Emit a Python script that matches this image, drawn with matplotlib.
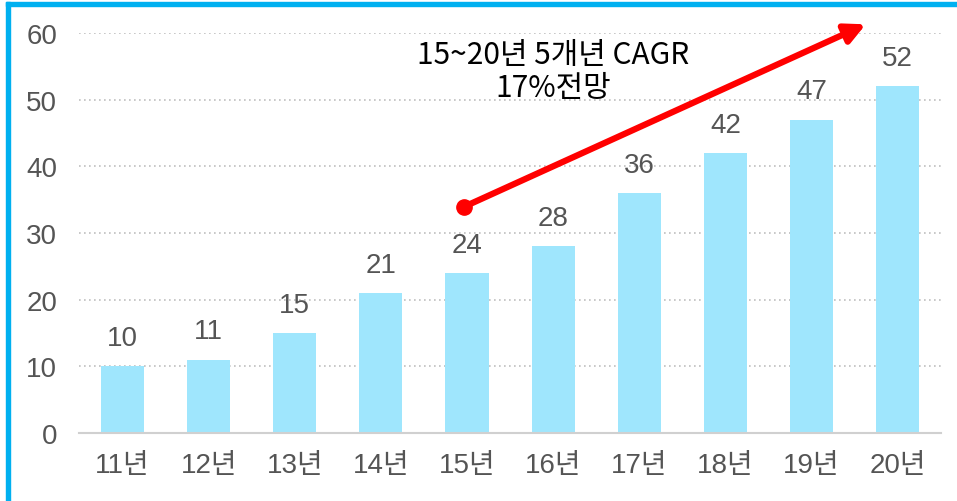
import matplotlib.pyplot as plt
from matplotlib.patches import Rectangle

plt.rcParams['font.family'] = ['Liberation Sans', 'Noto Sans CJK KR']

# data
years = ['11년', '12년', '13년', '14년', '15년', '16년', '17년', '18년', '19년', '20년']
values = [10, 11, 15, 21, 24, 28, 36, 42, 47, 52]
y_ticks = [0, 10, 20, 30, 40, 50, 60]

# CAGR arrow (data coords)
arrow_start = (3.96, 33.9)
arrow_end = (8.63, 61.3)
cagr_text = '15~20년 5개년 CAGR\n17%전망'

fig = plt.figure(figsize=(9.57, 5.02), dpi=100)
ax = fig.add_axes([0.083, 0.1355, 0.9, 0.7968])

x = range(len(years))
ax.bar(x, values, width=0.5, color='#9FE6FD', zorder=2)
for xi, v in zip(x, values):
    ax.text(xi, v + 2.3, str(v), ha='center', va='bottom', fontsize=20, color='#555555')

ax.set_xlim(-0.5, len(years) - 0.5)
ax.set_ylim(0, 60)
ax.set_yticks(y_ticks)
ax.set_xticks(list(x))
ax.set_xticklabels(years)
ax.tick_params(axis='both', length=0, labelsize=20, labelcolor='#555555')
ax.tick_params(axis='y', pad=16)
ax.tick_params(axis='x', pad=14)

for t in y_ticks[1:]:
    ax.axhline(t, color='#BFBFBF', linewidth=1.2, linestyle=(0, (1, 2)), zorder=1)
for s in ['top', 'right', 'left']:
    ax.spines[s].set_visible(False)
ax.spines['bottom'].set_color('#D0D0D0')
ax.spines['bottom'].set_linewidth(1.5)

# arrow
ax.annotate('', xy=arrow_end, xytext=arrow_start, annotation_clip=False,
            arrowprops=dict(arrowstyle='-|>,head_length=1.2,head_width=0.6',
                            color='#FF0000', lw=4.5, shrinkA=0, shrinkB=0), zorder=4)
ax.plot(*arrow_start, 'o', color='#FF0000', markersize=11, zorder=5, clip_on=False)
ax.text(5.0, 54.3, cagr_text, ha='center', va='center', fontsize=21.5,
        color='black', linespacing=1.05, family=['Noto Sans CJK KR'], fontweight='medium')

# frame border (left and top)
fig.patches.append(Rectangle((6 / 957, 0), 4 / 957, 1 - 3 / 502, transform=fig.transFigure,
                             color='#00B0F0', zorder=10))
fig.patches.append(Rectangle((6 / 957, 1 - 7 / 502), 1, 4 / 502, transform=fig.transFigure,
                             color='#00B0F0', zorder=10))

fig.savefig('out.png', dpi=100)
